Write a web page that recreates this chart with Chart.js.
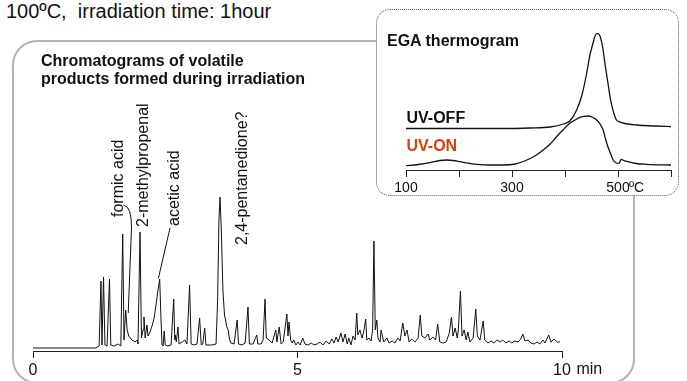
<!DOCTYPE html>
<html>
<head>
<meta charset="utf-8">
<script src="https://cdn.jsdelivr.net/npm/chart.js@4.4.0/dist/chart.umd.min.js"></script>
<style>
  html, body { margin: 0; padding: 0; background: #fff; }
  body { width: 687px; height: 381px; position: relative; overflow: hidden;
         font-family: "Liberation Sans", Arial, sans-serif; color: #111; }
  .abs { position: absolute; white-space: pre; }
  #frame { left: 11.5px; top: 39.5px; width: 623px; height: 344px; box-sizing: border-box;
           border: 2.5px solid #b3b3b3; border-radius: 25px; }
  #insetBox { left: 376px; top: 9px; width: 303px; height: 187px; box-sizing: border-box;
              border: 1.5px dotted #555; border-radius: 14px; background: #fff; }
  .rot { font-size: 16px; line-height: 16px; transform: rotate(-90deg); transform-origin: 0 0; }
  .bold16 { font-size: 16px; font-weight: bold; line-height: 18.3px; }
</style>
</head>
<body>
<div class="abs" style="left:6px; top:1px; font-size:20px; line-height:20px;">100ºC,  irradiation time: 1hour</div>
<div class="abs" id="frame"></div>
<canvas id="chrom" width="687" height="381" style="position:absolute; left:0; top:0;"></canvas>
<div class="abs bold16" style="left:41px; top:52px;">Chromatograms of volatile
products formed during irradiation</div>
<div class="abs rot" style="left:109.8px; top:217px;">formic acid</div>
<div class="abs rot" style="left:134.8px; top:227px;">2-methylpropenal</div>
<div class="abs rot" style="left:165.5px; top:226px;">acetic acid</div>
<div class="abs rot" style="left:234px; top:245px;">2,4-pentanedione?</div>
<div class="abs" style="left:572px; top:360.5px; font-size:16px; line-height:16px;"> min</div>

<div class="abs" id="insetBox"></div>
<canvas id="ega" width="303" height="187" style="position:absolute; left:376px; top:9px;"></canvas>
<div class="abs bold16" style="left:387px; top:32px;">EGA thermogram</div>
<div class="abs bold16" style="left:406.5px; top:108.6px;">UV-OFF</div>
<div class="abs bold16" style="left:406.5px; top:137px; color:#d4420c;">UV-ON</div>
<div class="abs" style="left:629px; top:179.8px; font-size:14px; line-height:14px;">ºC</div>

<script>
// chromatogram: retention time (min) and detector signal (arbitrary units)
const chromTime = [
  0, 1.19, 1.25, 1.285, 1.304, 1.333, 1.36, 1.40, 1.446, 1.47,
  1.53, 1.61, 1.66, 1.696, 1.72, 1.752, 1.78, 1.81, 1.87, 1.93,
  1.97, 1.985, 2.023, 2.05, 2.08, 2.098, 2.12, 2.155, 2.174, 2.21,
  2.25, 2.29, 2.325, 2.363, 2.395, 2.42, 2.44, 2.46, 2.48, 2.50,
  2.55, 2.61, 2.66, 2.68, 2.69, 2.71, 2.74, 2.76, 2.82, 2.87,
  2.91, 2.96, 2.99, 3.04, 3.10, 3.15, 3.18, 3.21, 3.245, 3.27,
  3.38, 3.46, 3.49, 3.515, 3.535, 3.56, 3.59, 3.62, 3.64, 3.66,
  3.69, 3.71, 3.74, 3.80, 3.86, 3.885, 3.95, 4.01, 4.064, 4.09,
  4.16, 4.23, 4.25, 4.31, 4.35, 4.386, 4.41, 4.46, 4.52, 4.59,
  4.61, 4.655, 4.69, 4.73, 4.80, 4.82, 4.84, 4.87, 4.90, 4.93,
  4.97, 5.01, 5.05, 5.10, 5.14, 5.20, 5.26, 5.31, 5.37, 5.43,
  5.48, 5.54, 5.60, 5.65, 5.69, 5.73, 5.77, 5.82, 5.86, 5.90,
  5.94, 5.97, 6.01, 6.05, 6.09, 6.12, 6.14, 6.18, 6.22, 6.25,
  6.29, 6.31, 6.35, 6.39, 6.42, 6.445, 6.47, 6.50, 6.52, 6.56,
  6.58, 6.63, 6.69, 6.73, 6.79, 6.84, 6.90, 6.94, 6.99, 7.03,
  7.07, 7.11, 7.16, 7.22, 7.28, 7.32, 7.35, 7.41, 7.47, 7.50,
  7.56, 7.61, 7.65, 7.69, 7.75, 7.81, 7.87, 7.91, 7.94, 7.98,
  8.02, 8.04, 8.08, 8.11, 8.15, 8.19, 8.22, 8.26, 8.32, 8.37,
  8.40, 8.45, 8.51, 8.54, 8.60, 8.66, 8.71, 8.77, 8.83, 8.88,
  8.94, 9.00, 9.05, 9.11, 9.17, 9.22, 9.26, 9.30, 9.36, 9.41,
  9.47, 9.53, 9.58, 9.64, 9.68, 9.72, 9.75, 9.79, 9.85, 9.91, 9.96
];
const chromSignal = [
  0, 0, 1, 33.5, 1.5, 35.5, 1.5, 1, 34.5, 1.5,
  1, 2, 1, 57, 4, 19, 9, 6, 4, 3,
  4, 2, 58, 5, 9, 15.5, 5, 11.5, 6, 8,
  11, 15, 21.5, 29, 34.5, 14, 1.5, 1, 8.5, 1.5,
  1, 1.5, 24.5, 4, 6.5, 3, 10.5, 2, 3, 4,
  2, 31.5, 2, 1.5, 2, 15, 1.5, 2, 10, 1.5,
  1.5, 2, 24, 64, 75.5, 59, 29, 16.5, 14, 11,
  9, 5, 2.5, 2, 14, 2, 1.5, 2.5, 20.5, 2,
  2, 6.5, 2, 2, 4, 24.5, 5, 4, 2.5, 9,
  3, 10.5, 2, 3, 17, 6, 13, 4, 2.5, 4,
  1.5, 3, 1.5, 5, 2, 1.5, 2.5, 1.5, 2, 3,
  1.5, 3.5, 2, 4.5, 2.5, 5.5, 3, 7.5, 3, 7,
  2, 5, 1.5, 6, 4, 17.5, 6.5, 9, 5, 8,
  14.5, 4, 5, 3.5, 9, 53.5, 9, 14, 5, 3,
  9, 3, 5, 2.5, 3.5, 2.5, 5, 3.5, 12.5, 6,
  9, 3, 4.5, 3, 5, 16.5, 6, 5, 7, 4,
  5.5, 4, 12, 3, 2.5, 3, 7.5, 15.5, 6, 10,
  5, 9, 28.5, 6, 9, 4, 8, 3, 5, 19.5,
  6, 4, 13.5, 4, 2.5, 3.5, 2.5, 4, 3, 4,
  2.5, 3.5, 2.5, 3.5, 3, 4.5, 7, 3.5, 4, 2.5,
  2, 3, 2, 4, 2.5, 5, 6.5, 3, 4.5, 3, 3
];
const chromTicks = [0, 5, 10];

// EGA thermogram: temperature (deg C) and signal, curves drawn with their offsets
const offTemp = [100, 145, 277, 334, 372, 397, 409, 422, 432, 441, 447, 453, 457, 461, 466, 471, 476, 481, 486, 492, 497, 502, 513, 535, 570, 600];
const offSignal = [41.5, 41.5, 41.5, 42, 43, 46, 49, 60, 75, 97, 115, 127, 134.5, 136.7, 134, 123, 104, 87, 70, 57, 50, 48.3, 46.5, 45, 44, 43.3];
const onTemp = [100, 123, 145, 164, 177, 189, 202, 217, 233, 258, 284, 306, 328, 343, 359, 372, 384, 396, 409, 419,
  428, 436, 444, 451, 460, 466, 472, 477, 481, 487, 491, 496, 502, 506, 511, 518, 534, 554, 600];
const onSignal = [4.3, 5.5, 7.3, 9.5, 10, 9.5, 8.3, 6.8, 5.7, 5, 5, 6, 10, 14, 20, 26, 33.3, 40, 46.7, 50,
  52.7, 53.7, 54, 53, 50, 46, 40, 30, 23.3, 15, 10, 7.3, 6.7, 10.7, 9.5, 8.3, 6.5, 5.7, 5];
const egaLabelTicks = [100, 300, 500];

// leader lines from labels to peaks, in (min, signal)
const formicLeader = [[1.707, 71.5], [1.866, 71], [1.862, 60], [1.80, 17.5]];
const aceticLeader = [[2.59, 60], [2.37, 34.8]];

Chart.defaults.font.family = '"Liberation Sans", Arial, sans-serif';
Chart.defaults.color = '#111';

const leaders = {
  id: 'leaders',
  afterDatasetsDraw(chart) {
    const { ctx, scales: { x, y } } = chart;
    const p = a => [x.getPixelForValue(a[0]), y.getPixelForValue(a[1])];
    ctx.save();
    ctx.strokeStyle = '#111';
    ctx.lineWidth = 1;
    ctx.beginPath();
    let f = formicLeader.map(p);
    ctx.moveTo(f[0][0], f[0][1]);
    ctx.quadraticCurveTo(f[1][0], f[1][1], f[2][0], f[2][1]);
    ctx.lineTo(f[3][0], f[3][1]);
    let a = aceticLeader.map(p);
    ctx.moveTo(a[0][0], a[0][1]);
    ctx.lineTo(a[1][0], a[1][1]);
    ctx.stroke();
    ctx.restore();
  }
};

new Chart(document.getElementById('chrom'), {
  type: 'line',
  data: {
    datasets: [{
      data: chromTime.map((t, i) => ({ x: t, y: chromSignal[i] })),
      borderColor: '#111',
      borderWidth: 1,
      pointRadius: 0,
      tension: 0
    }]
  },
  options: {
    responsive: false,
    animation: false,
    layout: { padding: { left: 33, right: 125, top: 148, bottom: 0 } },
    plugins: { legend: { display: false }, tooltip: { enabled: false } },
    scales: {
      x: {
        type: 'linear', min: 0, max: 10,
        afterBuildTicks: s => { s.ticks = chromTicks.map(v => ({ value: v })); },
        afterFit: s => { s.height = 30; },
        ticks: { font: { size: 16 }, color: '#111', padding: 3, maxRotation: 0 },
        grid: { drawOnChartArea: false, tickLength: 7, color: '#222' },
        border: { display: true, color: '#222', width: 1 }
      },
      y: { display: false, min: -1.5, max: 100 }
    }
  },
  plugins: [leaders]
});

new Chart(document.getElementById('ega'), {
  type: 'line',
  data: {
    datasets: [
      { label: 'UV-OFF', data: offTemp.map((t, i) => ({ x: t, y: offSignal[i] })),
        borderColor: '#111', borderWidth: 1.3, pointRadius: 0, cubicInterpolationMode: 'monotone' },
      { label: 'UV-ON', data: onTemp.map((t, i) => ({ x: t, y: onSignal[i] })),
        borderColor: '#111', borderWidth: 1.3, pointRadius: 0, cubicInterpolationMode: 'monotone' }
    ]
  },
  options: {
    responsive: false,
    animation: false,
    layout: { padding: { left: 30, right: 8, top: 21, bottom: 0 } },
    plugins: { legend: { display: false }, tooltip: { enabled: false } },
    scales: {
      x: {
        type: 'linear', min: 100, max: 600,
        afterFit: s => { s.height = 26; },
        ticks: { stepSize: 100, font: { size: 14 }, color: '#111', padding: 3, maxRotation: 0,
                 callback: v => egaLabelTicks.includes(v) ? String(v) : '' },
        grid: { drawOnChartArea: false, tickLength: 7, color: '#222' },
        border: { display: true, color: '#222', width: 1 }
      },
      y: { display: false, min: 0, max: 140 }
    }
  }
});
</script>
</body>
</html>
